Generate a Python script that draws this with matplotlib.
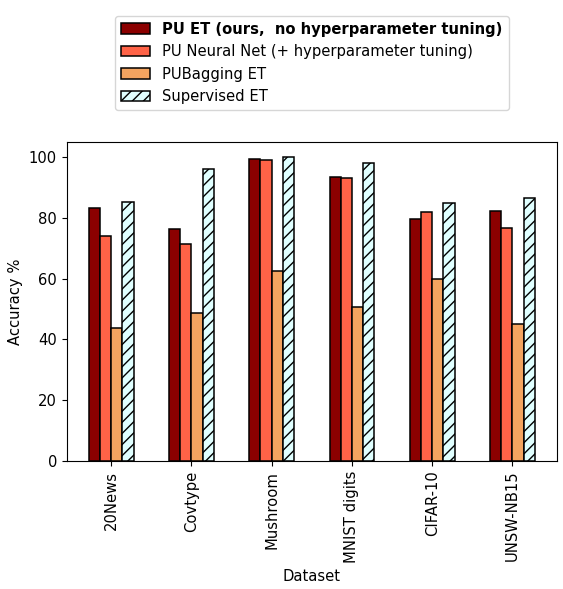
import matplotlib
matplotlib.use("Agg")
import matplotlib.pyplot as plt
import numpy as np

datasets = ["20News", "Covtype", "Mushroom", "MNIST digits", "CIFAR-10", "UNSW-NB15"]
pu_et = [83.2, 76.4, 99.4, 93.5, 79.6, 82.1]
pu_nn = [74.0, 71.5, 98.9, 93.0, 81.8, 76.5]
pu_bagging = [43.7, 48.6, 62.6, 50.8, 59.8, 45.0]
supervised = [85.3, 96.0, 99.9, 98.0, 85.0, 86.5]

series = [
    ("PU ET (ours,  no hyperparameter tuning)", pu_et, "darkred", None),
    ("PU Neural Net (+ hyperparameter tuning)", pu_nn, "tomato", None),
    ("PUBagging ET", pu_bagging, "sandybrown", None),
    ("Supervised ET", supervised, "lightcyan", "///"),
]

plt.rcParams["font.size"] = 10.6

fig = plt.figure(figsize=(5.63, 5.89), dpi=100)
ax = fig.add_axes([66.7 / 563, 1 - 461 / 589, 490.3 / 563, 319 / 589])

x = np.arange(len(datasets))
width = 0.14
for i, (label, vals, color, hatch) in enumerate(series):
    ax.bar(x + (i - 1.5) * width, vals, width, label=label, color=color,
           edgecolor="black", hatch=hatch, linewidth=1.1)

ax.set_xlim(-0.555, len(datasets) - 0.445)
ax.set_ylim(0, 104.9)
ax.set_xticks(x)
ax.set_xticklabels(datasets, rotation=90)
ax.set_xlabel("Dataset")
ax.set_ylabel("Accuracy %")

leg = ax.legend(loc="lower center", bbox_to_anchor=(0.5, 1.078))
leg.get_texts()[0].set_fontweight("bold")

fig.savefig("out.png", dpi=100, facecolor="white")
